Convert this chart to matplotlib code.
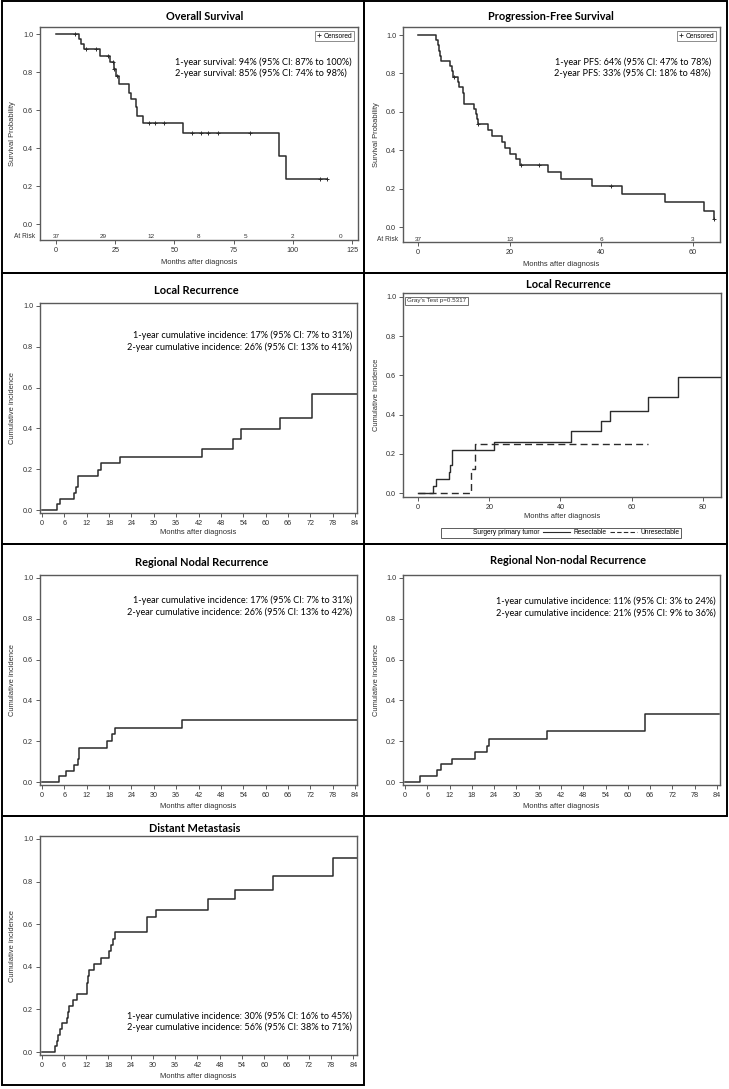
import numpy as np
import matplotlib
matplotlib.use("Agg")
import matplotlib.pyplot as plt
from matplotlib.lines import Line2D
from matplotlib.patches import Rectangle

W, H = 729, 1089

##### Data #####
# Overall survival (Kaplan-Meier)
os_time = [0, 9.6, 10.7, 11.8, 18.6, 22.8, 24.3, 25.2, 26.4, 30.9, 31.8, 33.7, 34.0, 36.6, 53.4, 94.2, 96.9, 114.5]
os_surv = [1.0, 0.973, 0.946, 0.919, 0.882, 0.852, 0.815, 0.78, 0.736, 0.692, 0.657, 0.615, 0.571, 0.531, 0.478, 0.36, 0.239, 0.239]
os_cens = [8.0, 12.7, 16.9, 22.1, 24.0, 24.6, 25.9, 39.4, 41.8, 45.6, 57.2, 61.2, 64.3, 68.2, 81.8, 111.4, 114.5]
os_risk_t = [0, 20, 40, 60, 80, 100, 120]
os_risk_n = [37, 29, 12, 8, 5, 2, 0]

# Progression-free survival
pfs_time = [0, 3.9, 4.3, 4.6, 4.9, 5.0, 6.9, 7.4, 7.6, 8.7, 8.9, 9.8, 10.0, 10.05, 12.2, 12.6, 12.8, 13.0,
            15.2, 16.2, 18.4, 18.9, 20.0, 21.4, 22.2, 28.3, 31.1, 37.9, 44.6, 54.0, 62.4, 64.5]
pfs_surv = [1.0, 0.973, 0.946, 0.919, 0.892, 0.865, 0.838, 0.811, 0.784, 0.757, 0.727, 0.70, 0.673, 0.643,
            0.616, 0.589, 0.562, 0.535, 0.505, 0.474, 0.443, 0.413, 0.383, 0.352, 0.324, 0.287, 0.251,
            0.214, 0.174, 0.129, 0.084, 0.044]
pfs_cens = [7.9, 13.1, 22.4, 26.4, 42.2, 64.6]
pfs_risk_t = [0, 20, 40, 60]
pfs_risk_n = [37, 13, 6, 3]

# Local recurrence (cumulative incidence)
lr_time = [0, 4.0, 4.7, 8.5, 9.0, 9.6, 15.0, 15.9, 20.8, 42.9, 51.2, 53.5, 63.8, 72.5, 84.5]
lr_inc = [0, 0.028, 0.056, 0.085, 0.113, 0.167, 0.198, 0.228, 0.258, 0.299, 0.347, 0.396, 0.453, 0.569, 0.569]

# Local recurrence by surgery of primary tumor
res_time = [0, 4.1, 5.05, 8.6, 9.1, 9.6, 21.4, 43.0, 51.4, 53.8, 64.5, 72.9, 85.0]
res_inc = [0, 0.035, 0.072, 0.107, 0.144, 0.22, 0.259, 0.314, 0.368, 0.42, 0.49, 0.59, 0.59]
unres_time = [0, 14.9, 16.1, 64.5]
unres_inc = [0, 0.125, 0.25, 0.25]

# Regional nodal recurrence
rn_time = [0, 4.55, 6.5, 8.5, 9.55, 9.9, 17.4, 18.9, 19.7, 37.5, 84.5]
rn_inc = [0, 0.028, 0.056, 0.084, 0.112, 0.168, 0.201, 0.233, 0.263, 0.302, 0.302]

# Regional non-nodal recurrence
rnn_time = [0, 4.15, 8.7, 9.75, 12.7, 18.8, 22.2, 22.6, 38.2, 64.7, 84.5]
rnn_inc = [0, 0.03, 0.058, 0.087, 0.114, 0.145, 0.175, 0.209, 0.25, 0.331, 0.331]

# Distant metastasis
dm_time = [0, 3.6, 4.0, 4.5, 4.8, 5.4, 6.7, 7.2, 7.4, 8.4, 9.6, 12.1, 12.3, 12.5, 12.8, 14.1, 15.9,
           18.2, 18.6, 19.1, 19.7, 28.4, 30.7, 44.7, 52.2, 62.4, 78.6, 85.0]
dm_inc = [0, 0.027, 0.054, 0.081, 0.108, 0.135, 0.162, 0.189, 0.216, 0.245, 0.272, 0.299, 0.326, 0.355,
          0.383, 0.413, 0.441, 0.472, 0.503, 0.532, 0.562, 0.632, 0.668, 0.718, 0.762, 0.825, 0.913, 0.913]

##### Styling #####
TXT_FONT = ["Lato", "DejaVu Sans"]
TICK_FONT = ["Liberation Sans", "DejaVu Sans"]
LINE_C = "#2b2b2b"
FRAME_C = "#5a5a5a"

fig = plt.figure(figsize=(W / 100, H / 100), dpi=100)


def fx(x):
    return x / W


def fy(y):
    return 1 - y / H


def make_axes(box, xlim, ylim, xticks, ylabel, xlab_y, ylab_x):
    x0, y0, x1, y1 = box
    ax = fig.add_axes([fx(x0), fy(y1), (x1 - x0) / W, (y1 - y0) / H])
    ax.set_xlim(*xlim)
    ax.set_ylim(*ylim)
    ax.set_xticks(xticks)
    ax.set_yticks([0, 0.2, 0.4, 0.6, 0.8, 1.0])
    ax.set_yticklabels(["0.0", "0.2", "0.4", "0.6", "0.8", "1.0"])
    for s in ax.spines.values():
        s.set_color(FRAME_C)
        s.set_linewidth(1.0)
    ax.tick_params(direction="out", length=3, width=0.7, color=FRAME_C, pad=2,
                   labelsize=5.2, labelcolor="#2f2f2f")
    for lab in ax.get_xticklabels() + ax.get_yticklabels():
        lab.set_family(TICK_FONT)
    ax.set_xlabel("Months after diagnosis", fontsize=5.4, family=TICK_FONT, color="#2f2f2f")
    ax.set_ylabel(ylabel, fontsize=5.4, family=TICK_FONT, color="#2f2f2f")
    ax.xaxis.label.set_va("center")
    ax.yaxis.label.set_va("center")
    ax.xaxis.set_label_coords(0.5, -(xlab_y - y1) / (y1 - y0))
    ax.yaxis.set_label_coords((ylab_x - x0) / (x1 - x0), 0.5)
    return ax


def title(x, y, s):
    fig.text(fx(x), fy(y), s, ha="center", va="center", fontsize=7.9,
             fontweight="bold", family=TXT_FONT)


def note(x_right, y, s):
    fig.text(fx(x_right), fy(y), s, ha="right", va="center", fontsize=6.6, family=TXT_FONT)


def step_at(times, vals, t):
    i = np.searchsorted(times, t, side="right") - 1
    return vals[i]


def censor_legend(ax):
    h = Line2D([], [], color=LINE_C, marker="+", linestyle="none", markersize=3, markeredgewidth=0.6)
    leg = ax.legend([h], ["Censored"], loc="upper right", frameon=True, fancybox=False,
                    borderpad=0.25, handletextpad=0.3, handlelength=0.8, borderaxespad=0.6,
                    prop={"family": TICK_FONT, "size": 4.8})
    leg.get_frame().set_edgecolor(FRAME_C)
    leg.get_frame().set_linewidth(0.6)


def at_risk(ax, ts, ns, yv):
    for t, n in zip(ts, ns):
        ax.text(t, yv, str(n), ha="center", va="center", fontsize=4.6, family=TICK_FONT, color="#333333")
    ax.text(-0.015, yv, "At Risk", transform=ax.get_yaxis_transform(), ha="right", va="center",
            fontsize=4.8, family=TICK_FONT, color="#333333")


##### Panel borders #####
for (x0, y0, x1, y1) in [(2, 1, 364, 273), (364, 1, 727, 273), (2, 273, 364, 544), (364, 273, 727, 544),
                         (2, 544, 364, 816), (364, 544, 727, 816), (2, 816, 364, 1085)]:
    fig.patches.append(Rectangle((fx(x0), fy(y1)), (x1 - x0) / W, (y1 - y0) / H, fill=False,
                                 edgecolor="black", linewidth=1.4, transform=fig.transFigure))

##### Overall Survival #####
ax = make_axes((40, 27, 358, 240), (-6.8, 127.5), (-0.084, 1.037), [0, 25, 50, 75, 100, 125],
               "Survival Probability", 262, 13)
ax.step(os_time, os_surv, where="post", color=LINE_C, lw=1.1)
ax.plot(os_cens, [step_at(os_time, os_surv, t) for t in os_cens], "+", color=LINE_C,
        markersize=3.5, markeredgewidth=0.7)
at_risk(ax, os_risk_t, os_risk_n, -0.063)
censor_legend(ax)
title(205, 17, "Overall Survival")
note(352, 62, "1-year survival: 94% (95% CI: 87% to 100%)")
note(347, 73, "2-year survival: 85% (95% CI: 74% to 98%)")

##### Progression-Free Survival #####
ax = make_axes((403, 27, 720, 242), (-3.27, 65.9), (-0.078, 1.042), [0, 20, 40, 60],
               "Survival Probability", 265, 377)
ax.step(pfs_time, pfs_surv, where="post", color=LINE_C, lw=1.1)
ax.plot(pfs_cens, [step_at(pfs_time, pfs_surv, t) for t in pfs_cens], "+", color=LINE_C,
        markersize=3.5, markeredgewidth=0.7)
at_risk(ax, pfs_risk_t, pfs_risk_n, -0.0625)
censor_legend(ax)
title(551, 17, "Progression-Free Survival")
note(711, 62, "1-year PFS: 64% (95% CI: 47% to 78%)")
note(711, 73, "2-year PFS: 33% (95% CI: 18% to 48%)")

months84 = list(range(0, 85, 6))

##### Local Recurrence #####
ax = make_axes((40, 303, 357, 513), (-0.54, 84.5), (-0.0147, 1.0147), months84,
               "Cumulative incidence", 533, 13)
ax.step(lr_time, lr_inc, where="post", color=LINE_C, lw=1.1)
title(196, 290, "Local Recurrence")
note(352, 335, "1-year cumulative incidence: 17% (95% CI: 7% to 31%)")
note(352, 347, "2-year cumulative incidence: 26% (95% CI: 13% to 41%)")

##### Local Recurrence by group #####
ax = make_axes((403, 293, 721, 497), (-4.2, 85.05), (-0.0204, 1.0204), [0, 20, 40, 60, 80],
               "Cumulative Incidence", 517, 377)
ax.step(res_time, res_inc, where="post", color=LINE_C, lw=1.0)
ax.step(unres_time, unres_inc, where="post", color=LINE_C, lw=1.0, dashes=(5, 3))
ax.text(0.012, 0.975, "Gray's Test p=0.5317", transform=ax.transAxes, ha="left", va="top",
        fontsize=4.5, family=TICK_FONT, color="#333333",
        bbox=dict(boxstyle="square,pad=0.25", facecolor="white", edgecolor=FRAME_C, linewidth=0.6))
hs = [Line2D([], [], color="none"),
      Line2D([], [], color=LINE_C, lw=0.8),
      Line2D([], [], color=LINE_C, lw=0.8, dashes=(4, 2))]
leg = ax.legend(hs, ["Surgery primary tumor", "Resectable", "Unresectable"], ncol=3,
                loc="center", bbox_to_anchor=(0.497, -(533 - 497) / 204), frameon=True, fancybox=False,
                handlelength=4.0, handletextpad=0.5, columnspacing=0.6, borderpad=0.25,
                prop={"family": TICK_FONT, "size": 4.8})
leg.get_frame().set_edgecolor("#333333")
leg.get_frame().set_linewidth(0.7)
title(568, 284, "Local Recurrence")

##### Regional Nodal Recurrence #####
ax = make_axes((40, 575, 357, 785), (-0.54, 84.5), (-0.0147, 1.0147), months84,
               "Cumulative incidence", 806, 13)
ax.step(rn_time, rn_inc, where="post", color=LINE_C, lw=1.1)
title(202, 563, "Regional Nodal Recurrence")
note(352, 600, "1-year cumulative incidence: 17% (95% CI: 7% to 31%)")
note(352, 612, "2-year cumulative incidence: 26% (95% CI: 13% to 42%)")

##### Regional Non-nodal Recurrence #####
ax = make_axes((403, 575, 720, 785), (-0.54, 84.8), (-0.0147, 1.0147), months84,
               "Cumulative incidence", 807, 377)
ax.step(rnn_time, rnn_inc, where="post", color=LINE_C, lw=1.1)
title(568, 560, "Regional Non-nodal Recurrence")
note(716, 601, "1-year cumulative incidence: 11% (95% CI: 3% to 24%)")
note(716, 613, "2-year cumulative incidence: 21% (95% CI: 9% to 36%)")

##### Distant Metastasis #####
ax = make_axes((40, 836, 357, 1055), (-0.46, 85.0), (-0.014, 1.014), months84,
               "Cumulative incidence", 1076, 13)
ax.step(dm_time, dm_inc, where="post", color=LINE_C, lw=1.1)
title(195, 828, "Distant Metastasis")
note(352, 1016, "1-year cumulative incidence: 30% (95% CI: 16% to 45%)")
note(352, 1027, "2-year cumulative incidence: 56% (95% CI: 38% to 71%)")

fig.savefig("out.png", dpi=100)
